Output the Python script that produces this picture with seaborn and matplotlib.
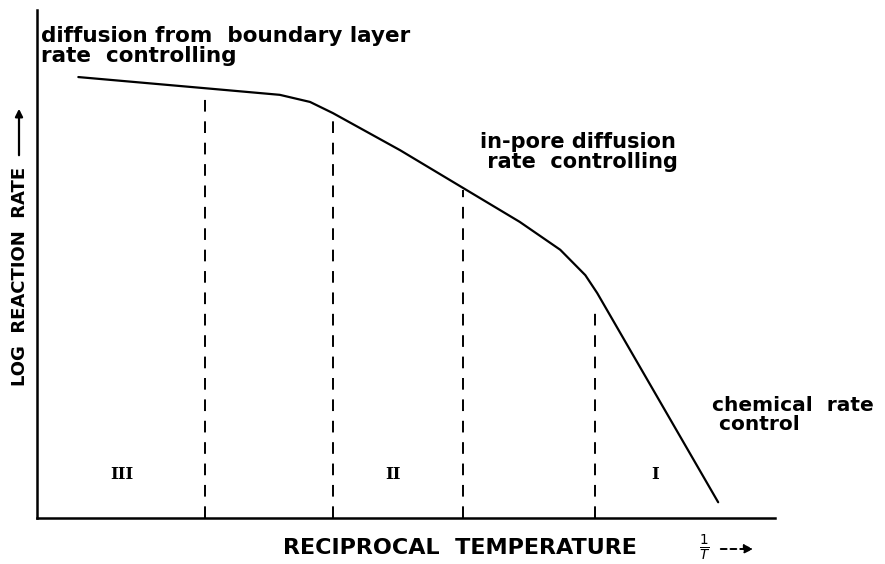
import matplotlib
matplotlib.use("Agg")
import matplotlib.pyplot as plt
import seaborn as sns
import pandas as pd

# data (arbitrary units: reciprocal temperature vs log reaction rate)
recip_temp = [5.6, 22.8, 32.9, 37.0, 40.1, 49.2, 57.7, 65.4, 70.9, 74.3, 75.9, 92.3]
log_rate = [86.8, 84.6, 83.3, 81.9, 79.7, 72.4, 65.0, 58.3, 52.8, 47.8, 44.3, 3.1]
boundary_x = [22.8, 40.1, 57.7, 75.6]
boundary_top = [83.3, 79.3, 64.6, 41.9]
region_labels = ["III", "II", "I"]
region_x = [11.5, 48.2, 83.7]

sns.set_theme(style="white")
plt.rcParams['font.family'] = ['DejaVu Sans']
plt.rcParams['text.color'] = 'black'

W, H = 885, 564
fig = plt.figure(figsize=(W / 100, H / 100), dpi=100)
ax = fig.add_axes([37 / W, (H - 518) / H, (775 - 37) / W, (518 - 10) / H])

df = pd.DataFrame({"x": recip_temp, "y": log_rate})
sns.lineplot(data=df, x="x", y="y", ax=ax, color="black", linewidth=1.6, sort=False)

ax.vlines(boundary_x, 0, boundary_top, colors="black", linestyles=(0, (6, 5)), linewidth=1.4)

for lab, xx in zip(region_labels, region_x):
    ax.text(xx, 8.5, lab, ha="center", va="center", fontsize=12, family="DejaVu Serif",
            fontweight="bold", color="black")

ax.set_xlim(0, 100)
ax.set_ylim(0, 100)
ax.set_xticks([])
ax.set_yticks([])
ax.set_xlabel("")
ax.set_ylabel("")
for s in ["top", "right"]:
    ax.spines[s].set_visible(False)
for s in ["left", "bottom"]:
    ax.spines[s].set_color("black")
    ax.spines[s].set_linewidth(1.8)

def px(x, y):
    return x / W, 1 - y / H

fig.text(*px(41, 62), "diffusion from  boundary layer\nrate  controlling", fontsize=15.5,
         fontweight="bold", ha="left", va="baseline", linespacing=1.0)
fig.text(*px(480, 168), "in-pore diffusion\n rate  controlling", fontsize=15,
         fontweight="bold", ha="left", va="baseline", linespacing=1.0)
fig.text(*px(712, 430), "chemical  rate\n control", fontsize=14.5,
         fontweight="bold", ha="left", va="baseline", linespacing=1.0)

fig.text(*px(20, 276), "LOG  REACTION  RATE", fontsize=13, rotation=90,
         ha="center", va="center", fontweight="bold")
fig.patches.append(matplotlib.patches.FancyArrowPatch(px(19, 158), px(19, 106),
                   transform=fig.transFigure, arrowstyle="-|>", mutation_scale=11,
                   color="black", linewidth=1.6))

fig.text(*px(460, 548), "RECIPROCAL  TEMPERATURE", fontsize=16, fontweight="bold",
         ha="center", va="center")
fig.text(*px(705, 548), r"$\frac{1}{T}$", fontsize=14, ha="center", va="center")
fig.patches.append(matplotlib.patches.FancyArrowPatch(px(718, 549), px(756, 549),
                   transform=fig.transFigure, arrowstyle="-|>", mutation_scale=13,
                   color="black", linewidth=1.4, linestyle=(0, (3, 2))))

fig.savefig("out.png", dpi=100, facecolor="white")
